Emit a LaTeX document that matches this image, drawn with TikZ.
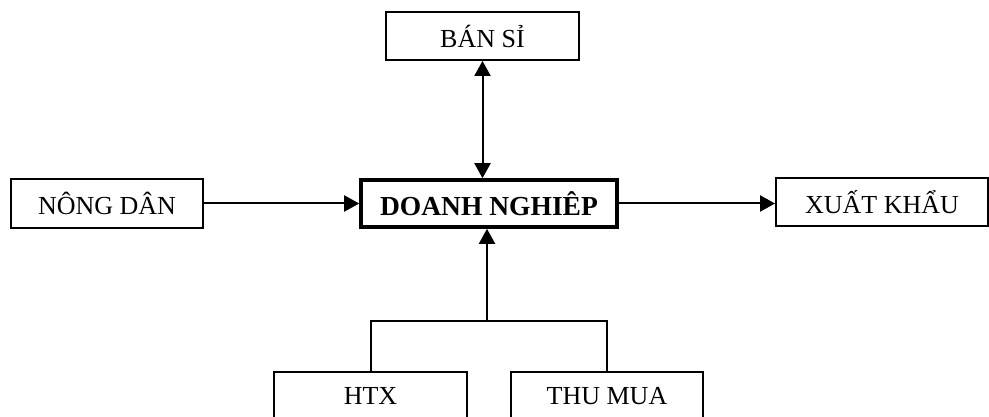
\documentclass[tikz,border=0pt]{standalone}
\usepackage{fontspec}
\setmainfont{Liberation Serif}
\usetikzlibrary{arrows.meta}
\begin{document}
\begin{tikzpicture}[x=1pt,y=-1pt,
  box/.style={draw,line width=1.9pt,inner sep=0pt,minimum height=48pt,
    font=\fontsize{26}{30}\selectfont},
  mainbox/.style={box,line width=3.6pt,font=\fontsize{27.5}{31}\selectfont\bfseries},
  link/.style={line width=2pt},
  tip/.style={-{Triangle[length=15pt,width=16pt]}},
  both/.style={{Triangle[length=15pt,width=16pt]}-{Triangle[length=15pt,width=16pt]}}
]
\useasboundingbox (0,0) rectangle (989,417);
\clip (0,0) rectangle (989,417);

% boxes
\node[box,minimum width=193pt] (bansi) at (482.5,36) {BÁN SỈ};
\node[box,minimum width=192pt,minimum height=49pt] (nongdan) at (107,203.5) {NÔNG DÂN};
\node[mainbox,minimum width=256pt,minimum height=47pt] (dn) at (489,203.5) {DOANH NGHIÊP};
\node[box,minimum width=212pt] (xk) at (882,202) {XUẤT KHẨU};
\node[box,minimum width=193pt] (htx) at (370.5,396) {HTX};
\node[box,minimum width=192pt] (thumua) at (607,396) {THU MUA};

% connectors
\draw[link,both] (bansi.south) -- (bansi.south |- dn.north);
\draw[link,tip] (nongdan.east |- dn.west) -- (dn.west);
\draw[link,tip] (dn.east) -- (xk.west |- dn.east);

\coordinate (join) at (487,321);
\draw[link] (htx.north) |- (join) -| (thumua.north);
\draw[link,tip] (join) -- (join |- dn.south);
\end{tikzpicture}
\end{document}
